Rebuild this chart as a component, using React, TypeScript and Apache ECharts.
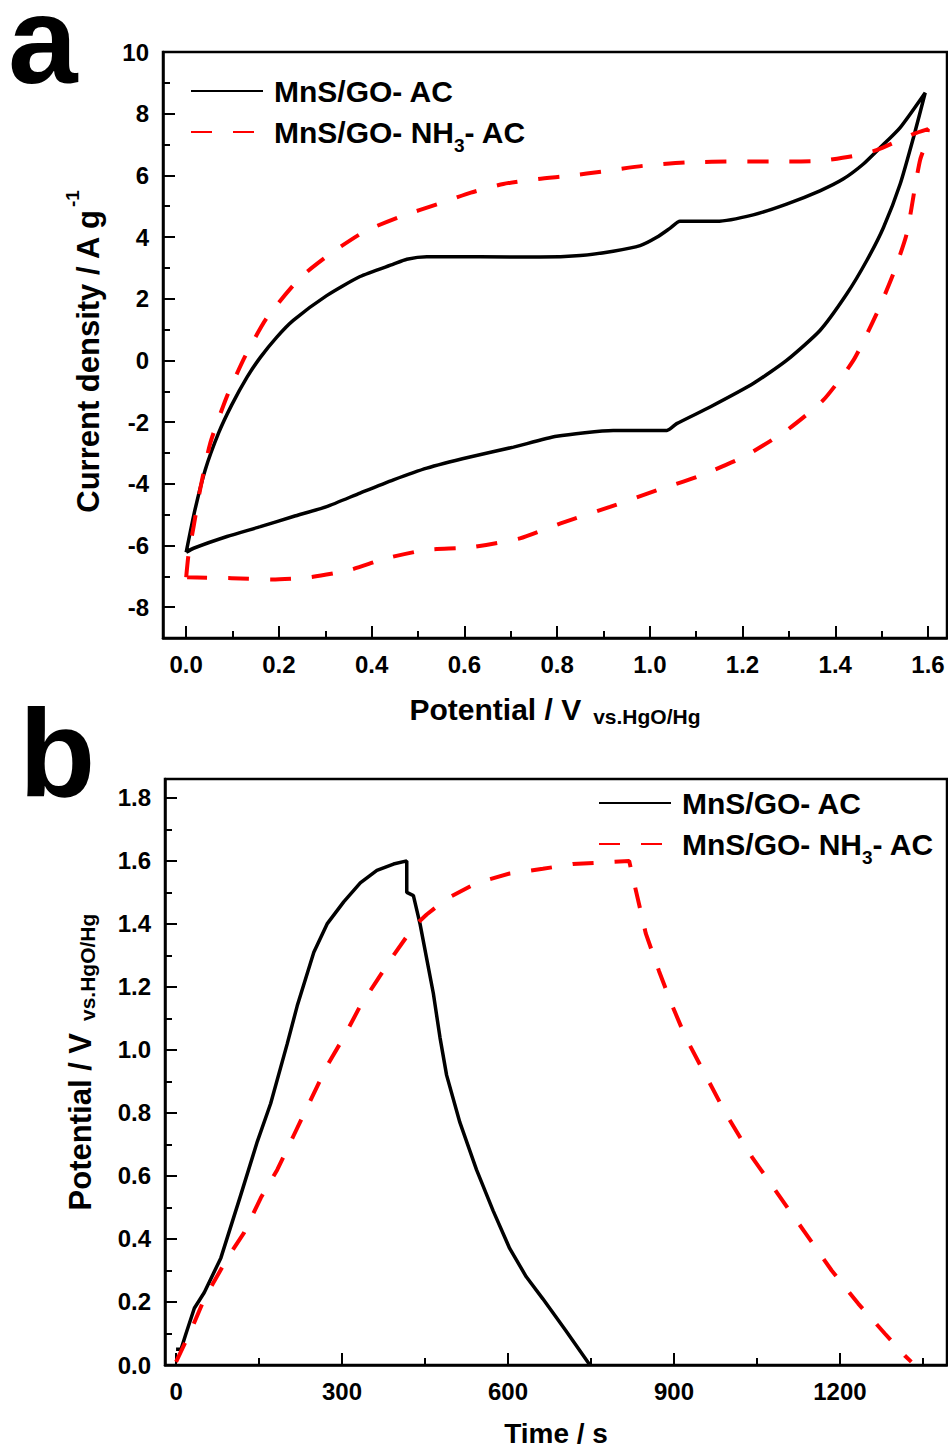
import React, { useEffect, useRef } from "react";
import * as echarts from "echarts";

const FONT = "'Liberation Sans', Arial, Helvetica, sans-serif";

const NAME_AC = "MnS/GO- AC";
const NAME_NH3 = "MnS/GO- NH3- AC";

// Panel a: cyclic voltammetry, [potential V, current density A/g]
const cvBlack: [number, number][] = [
  [0.0, -6.22], [0.019, -4.84], [0.041, -3.55], [0.07, -2.35], [0.098, -1.45],
  [0.131, -0.55], [0.16, 0.1], [0.195, 0.75], [0.231, 1.3], [0.303, 2.1],
  [0.375, 2.72], [0.447, 3.12], [0.476, 3.28], [0.519, 3.36], [0.634, 3.36],
  [0.763, 3.35], [0.85, 3.4], [0.921, 3.54], [0.979, 3.72], [1.015, 3.99],
  [1.044, 4.29], [1.065, 4.51], [1.144, 4.51], [1.223, 4.72], [1.295, 5.07],
  [1.367, 5.5], [1.417, 5.88], [1.46, 6.36], [1.497, 6.9], [1.54, 7.55],
  [1.594, 8.68], [1.57, 7.3], [1.54, 5.72], [1.504, 4.31], [1.468, 3.24],
  [1.425, 2.16], [1.367, 0.97], [1.295, 0.0], [1.223, -0.75], [1.13, -1.51],
  [1.058, -2.05], [1.037, -2.27], [0.921, -2.27], [0.799, -2.46], [0.706, -2.81],
  [0.612, -3.13], [0.519, -3.49], [0.447, -3.87], [0.375, -4.3], [0.303, -4.74],
  [0.231, -5.06], [0.16, -5.39], [0.088, -5.71], [0.016, -6.09], [0.0, -6.22],
];
const cvRed: [number, number][] = [
  [0.0, -7.03], [0.005, -6.3], [0.016, -5.39], [0.03, -4.19], [0.052, -2.68],
  [0.088, -1.16], [0.127, 0.13], [0.174, 1.38], [0.246, 2.68], [0.314, 3.49],
  [0.386, 4.19], [0.465, 4.68], [0.541, 5.06], [0.614, 5.44], [0.684, 5.72],
  [0.756, 5.88], [0.828, 5.99], [0.9, 6.13], [0.986, 6.31], [1.08, 6.42],
  [1.187, 6.45], [1.295, 6.45], [1.367, 6.47], [1.439, 6.63], [1.489, 6.82],
  [1.568, 7.34], [1.6, 7.5], [1.594, 7.0], [1.583, 6.5], [1.574, 5.8],
  [1.554, 4.1], [1.525, 2.8], [1.489, 1.51], [1.439, 0.0], [1.374, -1.29],
  [1.295, -2.27], [1.202, -3.13], [1.101, -3.78], [1.015, -4.21], [0.914, -4.75],
  [0.806, -5.29], [0.72, -5.77], [0.612, -6.06], [0.519, -6.14], [0.433, -6.41],
  [0.35, -6.81], [0.267, -7.03], [0.185, -7.1], [0.098, -7.06], [0.002, -7.03],
];

// Panel b: galvanostatic charge/discharge, [time s, potential V]
const gcdBlack: [number, number][] = [
  [0, 0.05], [9, 0.05], [18, 0.1], [33, 0.18], [51, 0.23], [81, 0.34],
  [117, 0.54], [147, 0.71], [171, 0.83], [201, 1.02], [219, 1.14], [249, 1.31],
  [273, 1.4], [303, 1.47], [333, 1.53], [363, 1.57], [393, 1.59], [417, 1.6],
  [417, 1.5], [429, 1.49], [441, 1.4], [453, 1.29], [465, 1.18], [477, 1.04],
  [489, 0.92], [513, 0.77], [543, 0.62], [573, 0.49], [603, 0.37], [633, 0.28],
  [663, 0.21], [704, 0.11], [748, 0.0],
];
const gcdRed: [number, number][] = [
  [0, 0.01], [27, 0.11], [51, 0.21], [93, 0.34], [123, 0.42], [153, 0.53],
  [183, 0.62], [213, 0.73], [243, 0.84], [273, 0.95], [303, 1.04], [333, 1.14],
  [363, 1.22], [393, 1.3], [429, 1.39], [453, 1.43], [489, 1.48], [543, 1.53],
  [603, 1.56], [663, 1.575], [717, 1.59], [819, 1.6], [828, 1.53], [849, 1.37],
  [873, 1.25], [897, 1.14], [921, 1.04], [957, 0.92], [993, 0.8], [1041, 0.66],
  [1089, 0.54], [1137, 0.42], [1185, 0.3], [1233, 0.195], [1281, 0.1],
  [1317, 0.03], [1329, 0.01],
];

// Tick values
const cvXMajor = [0, 0.2, 0.4, 0.6, 0.8, 1.0, 1.2, 1.4, 1.6];
const cvXMinor = [0.1, 0.3, 0.5, 0.7, 0.9, 1.1, 1.3, 1.5];
const cvYMajor = [-8, -6, -4, -2, 0, 2, 4, 6, 8, 10];
const cvYMinor = [-7, -5, -3, -1, 1, 3, 5, 7, 9];
const gcdXMajor = [0, 300, 600, 900, 1200];
const gcdXMinor = [150, 450, 750, 1050, 1350];
const gcdYMajor = [0, 0.2, 0.4, 0.6, 0.8, 1.0, 1.2, 1.4, 1.6, 1.8];
const gcdYMinor = [0.1, 0.3, 0.5, 0.7, 0.9, 1.1, 1.3, 1.5, 1.7];

const BLACK = "#000000";
const RED = "#ff0000";

function axis(
  gridIndex: number,
  min: number,
  max: number,
  values: number[],
  major: boolean,
  fmt: (v: number) => string,
  extra: any = {}
) {
  return {
    type: "value",
    gridIndex,
    min,
    max,
    splitLine: { show: false },
    axisLine: { show: major, onZero: false, lineStyle: { color: BLACK, width: 2.5 } },
    axisTick: {
      show: true,
      inside: true,
      length: major ? 12 : 7,
      customValues: values,
      lineStyle: { color: BLACK, width: 2 },
    },
    axisLabel: major
      ? {
          show: true,
          customValues: values,
          formatter: fmt,
          fontSize: 24,
          fontWeight: "bold",
          fontFamily: FONT,
          color: BLACK,
          margin: 14,
        }
      : { show: false },
    ...extra,
  };
}

const xTitleRich = {
  t: { fontSize: 30, fontWeight: "bold", fontFamily: FONT, color: BLACK, lineHeight: 30 },
  s: {
    fontSize: 21, fontWeight: "bold", fontFamily: FONT, color: BLACK,
    lineHeight: 10, padding: [15, 0, 0, 12],
  },
};

const yTitleRichB = {
  t: {
    fontSize: 31, fontWeight: "bold", fontFamily: FONT, color: BLACK,
    lineHeight: 30, padding: [0, 0, 0, 20],
  },
  s: {
    fontSize: 21, fontWeight: "bold", fontFamily: FONT, color: BLACK,
    lineHeight: 10, padding: [15, 0, 0, 12],
  },
};

const legendRich = {
  t: { fontSize: 30, fontWeight: "bold", fontFamily: FONT, color: BLACK, lineHeight: 30 },
  f: {
    fontSize: 30, fontWeight: "bold", fontFamily: FONT, color: BLACK,
    lineHeight: 30, padding: [0, 0, 0, 6],
  },
  s: {
    fontSize: 19, fontWeight: "bold", fontFamily: FONT, color: BLACK,
    lineHeight: 3, padding: [27, 0, 0, 0],
  },
};

function legendFormatter(name: string) {
  if (name === NAME_NH3) return "{f|MnS/GO- NH}{s|3}{t|- AC}";
  return "{f|" + name + "}";
}

function legend(left: number, top: number) {
  return {
    show: true,
    data: [NAME_AC, NAME_NH3],
    orient: "vertical",
    left,
    top,
    itemWidth: 72,
    itemHeight: 14,
    itemGap: 3,
    padding: 0,
    selectedMode: false,
    itemStyle: { opacity: 0 },
    formatter: legendFormatter,
    textStyle: {
      fontSize: 30,
      fontWeight: "bold",
      fontFamily: FONT,
      color: BLACK,
      rich: legendRich,
    },
  };
}

export default function App() {
  const ref = useRef<HTMLDivElement>(null);

  useEffect(() => {
    if (!ref.current) return;
    const chart = echarts.init(ref.current, undefined, { renderer: "svg" });
    const f1 = (v: number) => v.toFixed(1);
    const f0 = (v: number) => String(Math.round(v));

    chart.setOption({
      animation: false,
      backgroundColor: "#ffffff",
      grid: [
        {
          left: 163, top: 52, width: 784, height: 586,
          show: true, borderColor: BLACK, borderWidth: 2.5, backgroundColor: "transparent",
          containLabel: false, outerBoundsMode: "none",
        },
        {
          left: 165, top: 779, width: 782, height: 586,
          show: true, borderColor: BLACK, borderWidth: 2.5, backgroundColor: "transparent",
          containLabel: false, outerBoundsMode: "none",
        },
      ],
      xAxis: [
        axis(0, -0.05, 1.641, cvXMajor, true, f1, {
          position: "bottom",
          name: "{t|Potential / V}{s|vs.HgO/Hg}",
          nameLocation: "middle",
          nameGap: 56,
          nameTextStyle: { rich: xTitleRich },
        }),
        axis(0, -0.05, 1.641, cvXMinor, false, f1, { position: "bottom" }),
        axis(1, -20, 1393.5, gcdXMajor, true, f0, {
          position: "bottom",
          name: "Time / s",
          nameLocation: "middle",
          nameGap: 56,
          nameTextStyle: {
            fontSize: 28, fontWeight: "bold", fontFamily: FONT, color: BLACK, lineHeight: 24,
          },
        }),
        axis(1, -20, 1393.5, gcdXMinor, false, f0, { position: "bottom" }),
      ],
      yAxis: [
        axis(0, -9, 10, cvYMajor, true, f0, {
          position: "left",
          name: "{t|Current density / A g}{sup|-1}",
          nameLocation: "middle",
          nameRotate: 90,
          nameGap: 65,
          nameTextStyle: {
            rich: {
              t: {
                fontSize: 31, fontWeight: "bold", fontFamily: FONT, color: BLACK,
                lineHeight: 30, padding: [10, 0, 0, 0],
              },
              sup: {
                fontSize: 19, fontWeight: "bold", fontFamily: FONT, color: BLACK,
                lineHeight: 19, padding: [0, 14, 21, 2],
              },
            },
          },
        }),
        axis(0, -9, 10, cvYMinor, false, f0, { position: "left" }),
        axis(1, 0, 1.86, gcdYMajor, true, f1, {
          position: "left",
          name: "{t|Potential / V}{s|vs.HgO/Hg}",
          nameLocation: "middle",
          nameRotate: 90,
          nameGap: 70,
          nameTextStyle: { rich: yTitleRichB },
        }),
        axis(1, 0, 1.86, gcdYMinor, false, f1, { position: "left" }),
      ],
      legend: [legend(190, 76), legend(598, 788)],
      series: [
        {
          name: NAME_AC, type: "line", xAxisIndex: 0, yAxisIndex: 0, data: cvBlack,
          symbol: "none", smooth: 0.2,
          lineStyle: { color: BLACK, width: 3.5, type: "solid" },
          itemStyle: { color: BLACK },
        },
        {
          name: NAME_NH3, type: "line", xAxisIndex: 0, yAxisIndex: 0, data: cvRed,
          symbol: "none", smooth: 0.2,
          lineStyle: { color: RED, width: 4, type: [21, 21] },
          itemStyle: { color: RED },
        },
        {
          name: NAME_AC, type: "line", xAxisIndex: 2, yAxisIndex: 2, data: gcdBlack,
          symbol: "none", smooth: false,
          lineStyle: { color: BLACK, width: 3.5, type: "solid" },
          itemStyle: { color: BLACK },
        },
        {
          name: NAME_NH3, type: "line", xAxisIndex: 2, yAxisIndex: 2, data: gcdRed,
          symbol: "none", smooth: false,
          lineStyle: { color: RED, width: 4, type: [21, 21] },
          itemStyle: { color: RED },
        },
      ],
      graphic: [
        {
          type: "text", x: 8, y: 39,
          style: {
            text: "a", fontSize: 125, fontWeight: "bold", fontFamily: FONT, fill: BLACK,
            align: "left", verticalAlign: "middle",
          },
        },
        {
          type: "text", x: 19, y: 752,
          style: {
            text: "b", fontSize: 125, fontWeight: "bold", fontFamily: FONT, fill: BLACK,
            align: "left", verticalAlign: "middle",
          },
        },
      ],
    });

    return () => chart.dispose();
  }, []);

  return (
    <div
      ref={ref}
      style={{ position: "absolute", left: 0, top: 0, width: 948, height: 1450, background: "#fff" }}
    />
  );
}
